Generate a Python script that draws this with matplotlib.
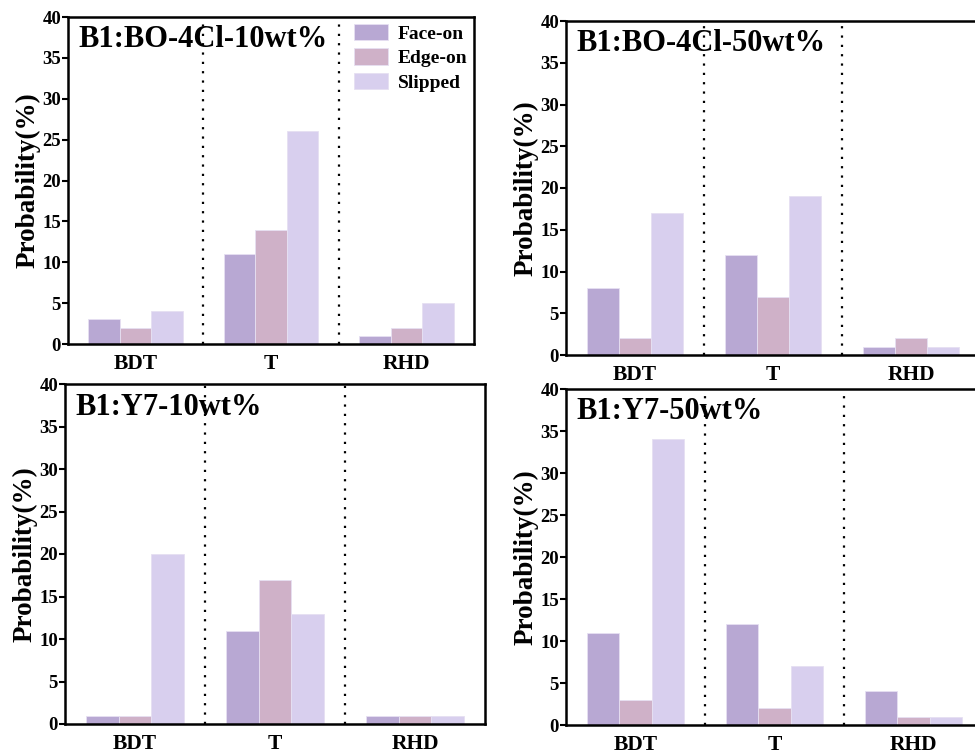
import matplotlib
matplotlib.use("Agg")
import matplotlib.pyplot as plt
import numpy as np

plt.rcParams['font.family'] = ['Liberation Serif', 'DejaVu Serif']
plt.rcParams['font.weight'] = 'bold'

categories = ["BDT", "T", "RHD"]
series_names = ["Face-on", "Edge-on", "Slipped"]
colors = ["#B8A8D3", "#CFB1C8", "#D8CFEE"]

titles = ["B1:BO-4Cl-10wt%", "B1:BO-4Cl-50wt%", "B1:Y7-10wt%", "B1:Y7-50wt%"]

bo10_face = [3, 11, 1]
bo10_edge = [2, 14, 2]
bo10_slip = [4, 26, 5]

bo50_face = [8, 12, 1]
bo50_edge = [2, 7, 2]
bo50_slip = [17, 19, 1]

y710_face = [1, 11, 1]
y710_edge = [1, 17, 1]
y710_slip = [20, 13, 1]

y750_face = [11, 12, 4]
y750_edge = [3, 2, 1]
y750_slip = [34, 7, 1]

yticks = [0, 5, 10, 15, 20, 25, 30, 35, 40]

panels = [
    (bo10_face, bo10_edge, bo10_slip),
    (bo50_face, bo50_edge, bo50_slip),
    (y710_face, y710_edge, y710_slip),
    (y750_face, y750_edge, y750_slip),
]

W, H = 975, 753
fig = plt.figure(figsize=(W / 100, H / 100), dpi=100)

# axes boxes in pixels: left, top, right, bottom
boxes = [
    (68, 17, 474, 344),
    (566, 21, 980, 355),
    (65, 384, 485, 724),
    (566, 389, 983, 725),
]

bw = 0.7 / 3
x = np.arange(len(categories))

for i, ((l, t, r, b), data, title) in enumerate(zip(boxes, panels, titles)):
    ax = fig.add_axes([l / W, 1 - b / H, (r - l) / W, (b - t) / H])
    for j, (vals, c, name) in enumerate(zip(data, colors, series_names)):
        ax.bar(x + (j - 1) * bw, vals, width=bw, color=c, edgecolor="#E6E0F2",
               linewidth=0.6, label=name, zorder=2)
    for xv in (0.5, 1.5):
        ax.axvline(xv, color="black", linestyle=(0, (1, 3.2)), linewidth=1.6, zorder=3)
    ax.set_xlim(-0.5, 2.5)
    ax.set_ylim(0, 40)
    ax.set_yticks(yticks)
    ax.set_xticks(x)
    ax.set_xticklabels(categories, fontsize=15.5, fontweight="bold")
    ax.tick_params(axis="x", length=0, pad=7)
    ax.tick_params(axis="y", direction="out", length=4, width=1.5, labelsize=13.5, pad=1)
    for lab in ax.get_yticklabels():
        lab.set_fontweight("bold")
    for sp in ax.spines.values():
        sp.set_linewidth(1.8)
    ax.set_ylabel("Probability(%)", fontsize=19.5, fontweight="bold", labelpad=1)
    ax.text(0.025, 0.975, title, transform=ax.transAxes, fontsize=22,
            fontweight="bold", ha="left", va="top", zorder=4)
    if i == 0:
        ax.legend(loc="upper right", frameon=False,
                  prop={"weight": "bold", "size": 14},
                  handlelength=1.75, handleheight=0.9, handletextpad=0.5,
                  labelspacing=0.3, borderaxespad=0.15, borderpad=0.2)

fig.savefig("out.png", dpi=100)
